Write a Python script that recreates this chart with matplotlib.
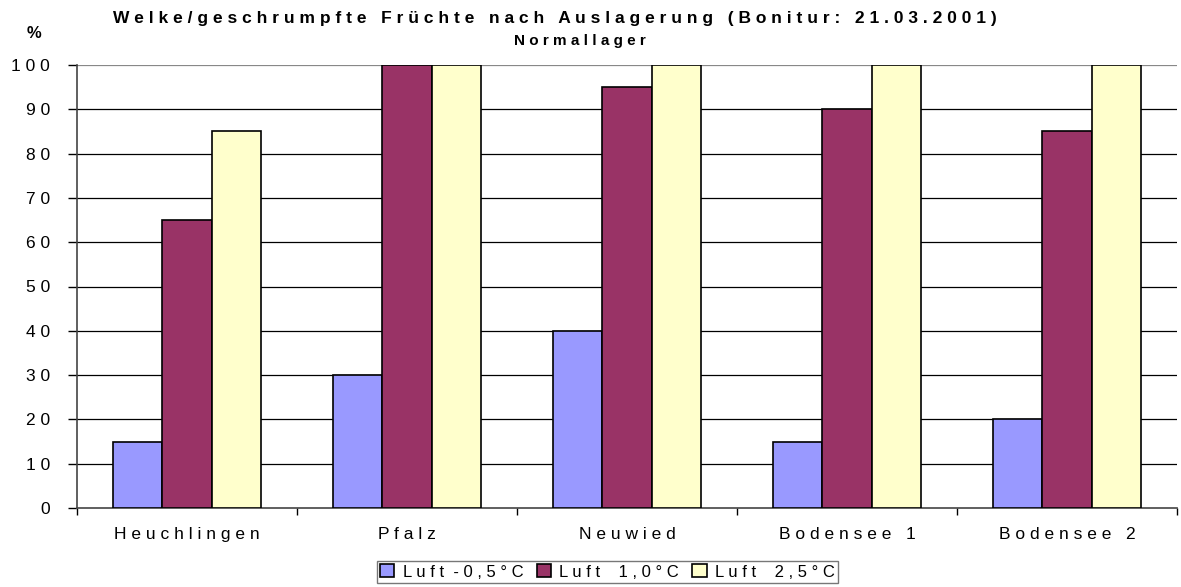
import numpy as np
import matplotlib
matplotlib.use('Agg')
from matplotlib import pyplot as plt

CATEGORIES = ['Heuchlingen', 'Pfalz', 'Neuwied', 'Bodensee 1', 'Bodensee 2']
SERIES = ['Luft -0,5°C', 'Luft  1,0°C', 'Luft  2,5°C']
LUFT_M05 = [15, 30, 40, 15, 20]
LUFT_10 = [65, 100, 95, 90, 85]
LUFT_25 = [85, 100, 100, 100, 100]
Y_TICKS = [0, 10, 20, 30, 40, 50, 60, 70, 80, 90, 100]
COLORS = ['#9999FF', '#993366', '#FFFFCC']
TITLE = 'Welke/geschrumpfte Früchte nach Auslagerung (Bonitur: 21.03.2001)'
SUBTITLE = 'Normallager'

plt.rcParams['font.family'] = ['Liberation Sans', 'DejaVu Sans']


def spaced(text, sep=' '):
    # Excel-style letter spacing
    return sep.join(text)


def spaced_words(text, sep=' '):
    gap = '    ' if '  ' in text else '  '
    return gap.join(sep.join(w) for w in text.split(' ') if w)


fig = plt.figure(figsize=(11.81, 5.87), dpi=100)
ax = fig.add_axes([77 / 1181, 1 - 508 / 587, 1100 / 1181, 443 / 587])

x = np.arange(len(CATEGORIES))
width = 0.223
for i, (vals, col, name) in enumerate(zip([LUFT_M05, LUFT_10, LUFT_25], COLORS, SERIES)):
    ax.bar(x + (i - 1) * width, vals, width, color=col, edgecolor='black',
           linewidth=1.2, label=spaced_words(name), zorder=3)

ax.set_xlim(-0.5, len(CATEGORIES) - 0.5)
ax.set_ylim(0, 100)
ax.set_yticks(Y_TICKS)
ax.set_yticklabels([spaced(str(t)) for t in Y_TICKS], fontsize=12.5)
ax.set_xticks(x)
ax.set_xticklabels([spaced(c) for c in CATEGORIES], fontsize=12.5)
ax.tick_params(axis='x', length=0, pad=14)
ax.set_xticks(np.arange(-0.5, len(CATEGORIES)), minor=True)
ax.tick_params(axis='x', which='minor', length=5, direction='out', width=1)
ax.tick_params(axis='y', length=6.5, direction='out', width=1, pad=13)
for t in Y_TICKS[1:]:
    ax.axhline(t, color='black' if t < 100 else '#888888', linewidth=0.9, zorder=1)
ax.spines['top'].set_visible(False)
ax.spines['right'].set_visible(False)
ax.spines['left'].set_linewidth(1.2)
ax.spines['bottom'].set_linewidth(1.2)
ax.spines['left'].set_color('#444444')
ax.spines['bottom'].set_color('#444444')

fig.text(555 / 1181, 1 - 18 / 587, spaced(TITLE),
         ha='center', va='center', fontsize=12.5, fontweight='bold')
fig.text(580 / 1181, 1 - 41 / 587, spaced(SUBTITLE), ha='center', va='center',
         fontsize=11, fontweight='bold')
fig.text(34 / 1181, 1 - 33 / 587, '%', ha='center', va='center', fontsize=12, fontweight='bold')

leg = fig.legend(loc='center', bbox_to_anchor=(607.5 / 1181, 1 - 572 / 587), ncol=3,
                 fontsize=12, frameon=True, fancybox=False, edgecolor='#555555',
                 handlelength=0.85, handleheight=0.8, handletextpad=0.5,
                 columnspacing=0.8, borderpad=0.2, borderaxespad=0)
leg.get_frame().set_linewidth(1.0)

fig.savefig('out.png', dpi=100)
